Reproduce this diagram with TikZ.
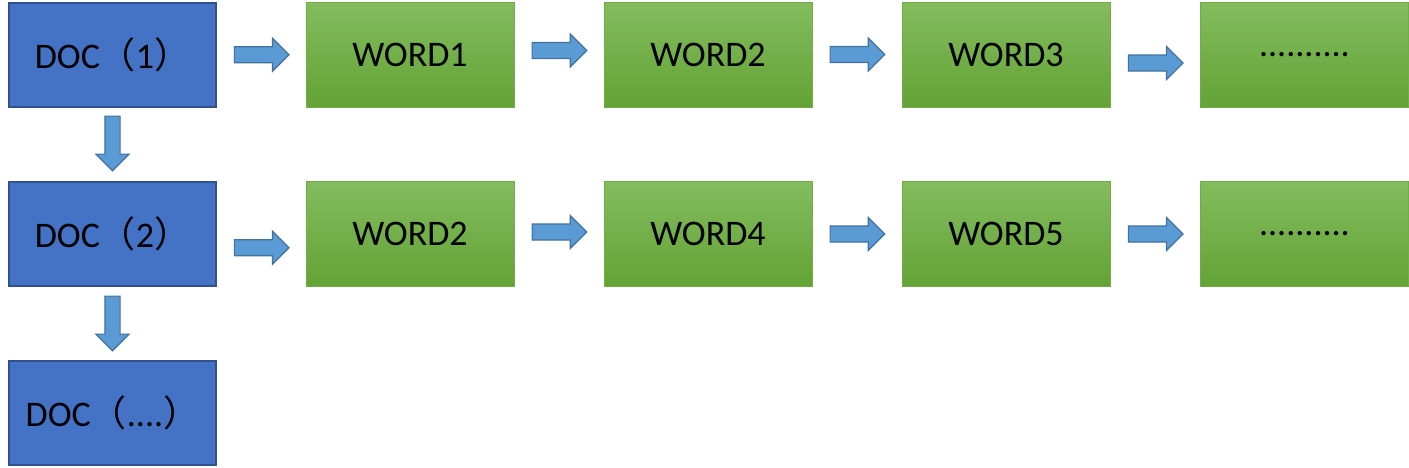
\documentclass[tikz,border=0pt]{standalone}
\usepackage{fontspec}
\setmainfont{Carlito}
\newfontfamily\cjk{Noto Sans CJK SC}
\usetikzlibrary{shapes.arrows,calc}
\definecolor{docfill}{RGB}{68,114,196}
\definecolor{docline}{RGB}{47,82,143}
\definecolor{gtop}{RGB}{131,188,94}
\definecolor{gbot}{RGB}{99,163,53}
\definecolor{gline}{RGB}{112,173,71}
\definecolor{afill}{RGB}{91,155,213}
\definecolor{aline}{RGB}{65,113,156}
\begin{document}
\begin{tikzpicture}[x=1pt,y=-1pt,
  boxtext/.style={font=\fontsize{36}{40}\selectfont, text=black},
  docbox/.style={draw=docline, fill=docfill, line width=2pt, minimum width=207pt, minimum height=104pt, inner sep=0pt, boxtext},
  wordbox/.style={draw=gline, top color=gtop, bottom color=gbot, line width=1pt, minimum width=208pt, minimum height=105pt, inner sep=0pt, boxtext},
  blockarrow/.style={single arrow, draw=aline, fill=afill, line width=1.2pt, minimum height=54.6pt, inner xsep=0pt, inner ysep=7.4pt, single arrow head extend=8.5pt, anchor=tail},
  downarrow/.style={blockarrow, shape border rotate=270, inner ysep=0pt, inner xsep=7pt, single arrow head extend=9pt}
]
\useasboundingbox (0,0) rectangle (1409,467);
% left column
\node[docbox] (doc1) at (112.5,55) {DOC{\cjk （}1{\cjk ）}};
\node[docbox] (doc2) at (112.5,233.5) {DOC{\cjk （}2{\cjk ）}};
\node[docbox] (doc3) at (112.5,412.5) {DOC{\cjk （}....{\cjk ）}};
% row 1
\node[wordbox] (w11) at (410,54.5) {WORD1};
\node[wordbox] (w12) at (708,54.5) {WORD2};
\node[wordbox] (w13) at (1006,54.5) {WORD3};
\node[wordbox] (w14) at (1304.5,54.5) {..........};
% row 2
\node[wordbox] (w21) at (410,234) {WORD2};
\node[wordbox] (w22) at (708,234) {WORD4};
\node[wordbox] (w23) at (1006,234) {WORD5};
\node[wordbox] (w24) at (1304.5,234) {..........};
% arrows row 1
\node[blockarrow] (a1) at ($(doc1.east)!.5!(w11.west)+(-27.5,0)$) {};
\node[blockarrow] (a2) at ($(w11.east)!.5!(w12.west)+(-27.5,-4)$) {};
\node[blockarrow] (a3) at ($(w12.east)!.5!(w13.west)+(-27.5,0)$) {};
\node[blockarrow] (a4) at ($(w13.east)!.5!(w14.west)+(-27.5,8.5)$) {};
% arrows row 2
\node[blockarrow] (b1) at ($(doc2.east)!.5!(w21.west)+(-27.5,14)$) {};
\node[blockarrow] (b2) at ($(w21.east)!.5!(w22.west)+(-27.5,-2)$) {};
\node[blockarrow] (b3) at ($(w22.east)!.5!(w23.west)+(-27.5,0)$) {};
\node[blockarrow] (b4) at ($(w23.east)!.5!(w24.west)+(-27.5,0)$) {};
% down arrows
\node[downarrow] (d1) at ($(doc1.south)+(0,7.5)$) {};
\node[downarrow] (d2) at ($(doc2.south)+(0,9)$) {};
\end{tikzpicture}
\end{document}
